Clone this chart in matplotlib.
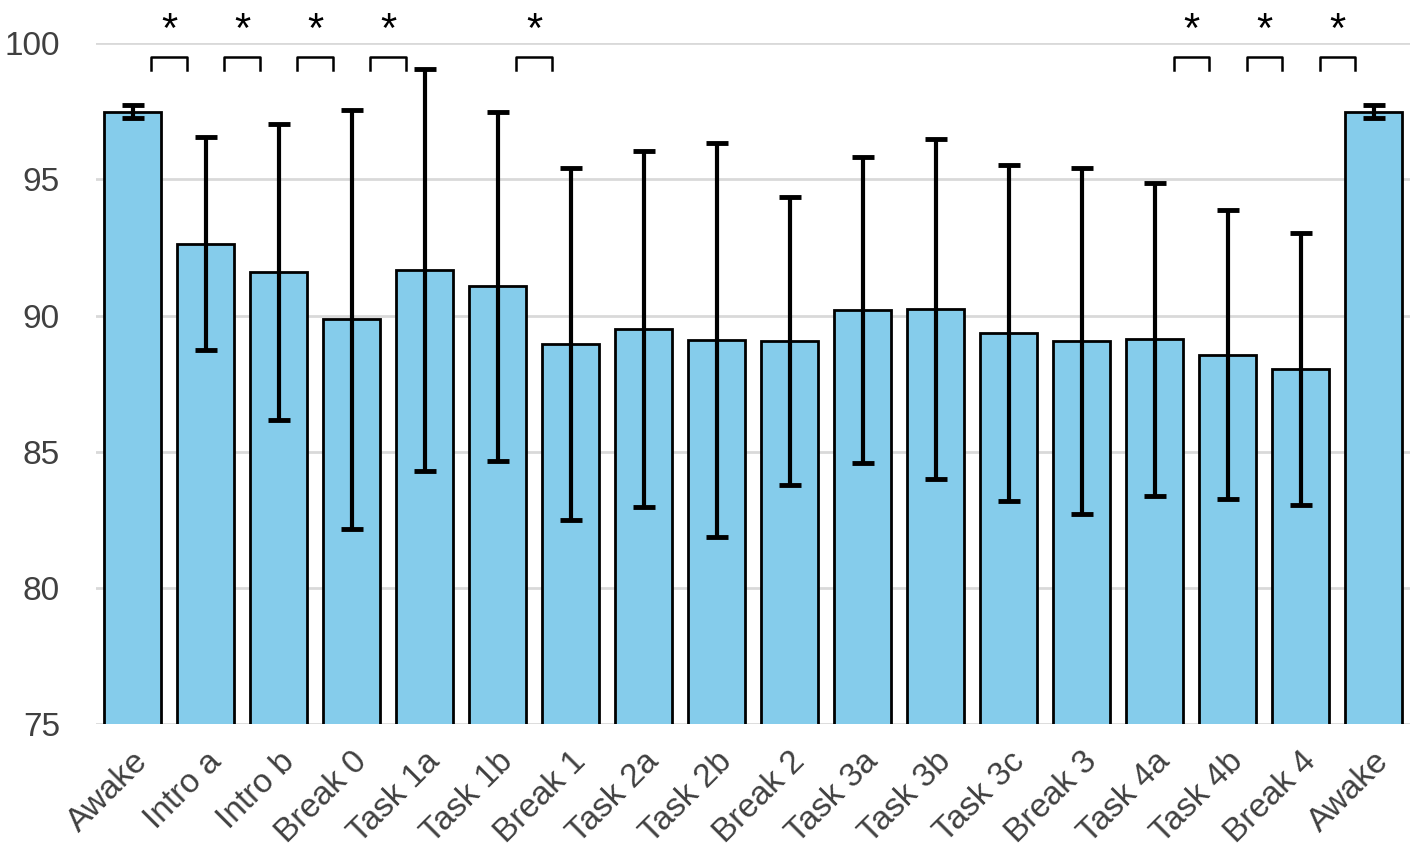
import matplotlib
matplotlib.use('Agg')
import matplotlib.pyplot as plt
import numpy as np

plt.rcParams['font.family'] = ['Liberation Sans', 'DejaVu Sans']

# data
labels = ['Awake', 'Intro a', 'Intro b', 'Break 0', 'Task 1a', 'Task 1b', 'Break 1',
          'Task 2a', 'Task 2b', 'Break 2', 'Task 3a', 'Task 3b', 'Task 3c', 'Break 3',
          'Task 4a', 'Task 4b', 'Break 4', 'Awake']
means = [97.48, 92.64, 91.61, 89.86, 91.67, 91.07, 88.96,
         89.51, 89.09, 89.05, 90.20, 90.23, 89.36, 89.06,
         89.13, 88.56, 88.03, 97.48]
errs = [0.24, 3.90, 5.44, 7.69, 7.37, 6.40, 6.45,
        6.54, 7.24, 5.29, 5.63, 6.25, 6.17, 6.36,
        5.75, 5.30, 5.00, 0.24]
# significant differences between neighbouring bars (left index of the pair)
sig_left = [0, 1, 2, 3, 5, 14, 15, 16]

bar_color = '#85CCEB'
grid_color = '#D9D9D9'
text_color = '#404040'

fig = plt.figure(figsize=(14.18, 8.65), dpi=100)
ax = fig.add_axes([0.0677, 0.163, 0.9267, 0.787])

x = np.arange(len(labels))
ax.bar(x, means, width=0.78, color=bar_color, edgecolor='black', linewidth=2, zorder=2)
ax.errorbar(x, means, yerr=errs, fmt='none', ecolor='black', elinewidth=3,
            capsize=8, capthick=3.5, zorder=3)

# significance brackets
for i in sig_left:
    xl, xr = i + 0.26, i + 0.74
    ax.plot([xl, xl, xr, xr], [99.0, 99.5, 99.5, 99.0], color='black', lw=1.8,
            clip_on=False, zorder=4)
    ax.text(i + 0.5, 100.45, '*', ha='center', va='center', fontsize=30,
            color='black', clip_on=False)

ax.set_xlim(-0.5, len(labels) - 0.5)
ax.set_ylim(75, 100)
ax.set_yticks([75, 80, 85, 90, 95, 100])
ax.yaxis.grid(True, color=grid_color, linewidth=2)
ax.set_axisbelow(True)
for s in ax.spines.values():
    s.set_visible(False)
ax.tick_params(axis='both', length=0, labelsize=24, labelcolor=text_color)
ax.tick_params(axis='y', pad=26)
ax.set_xticks(x)
ax.set_xticklabels(labels, rotation=45, ha='right', rotation_mode='anchor')
ax.tick_params(axis='x', pad=16)

fig.savefig('out.png', dpi=100)
